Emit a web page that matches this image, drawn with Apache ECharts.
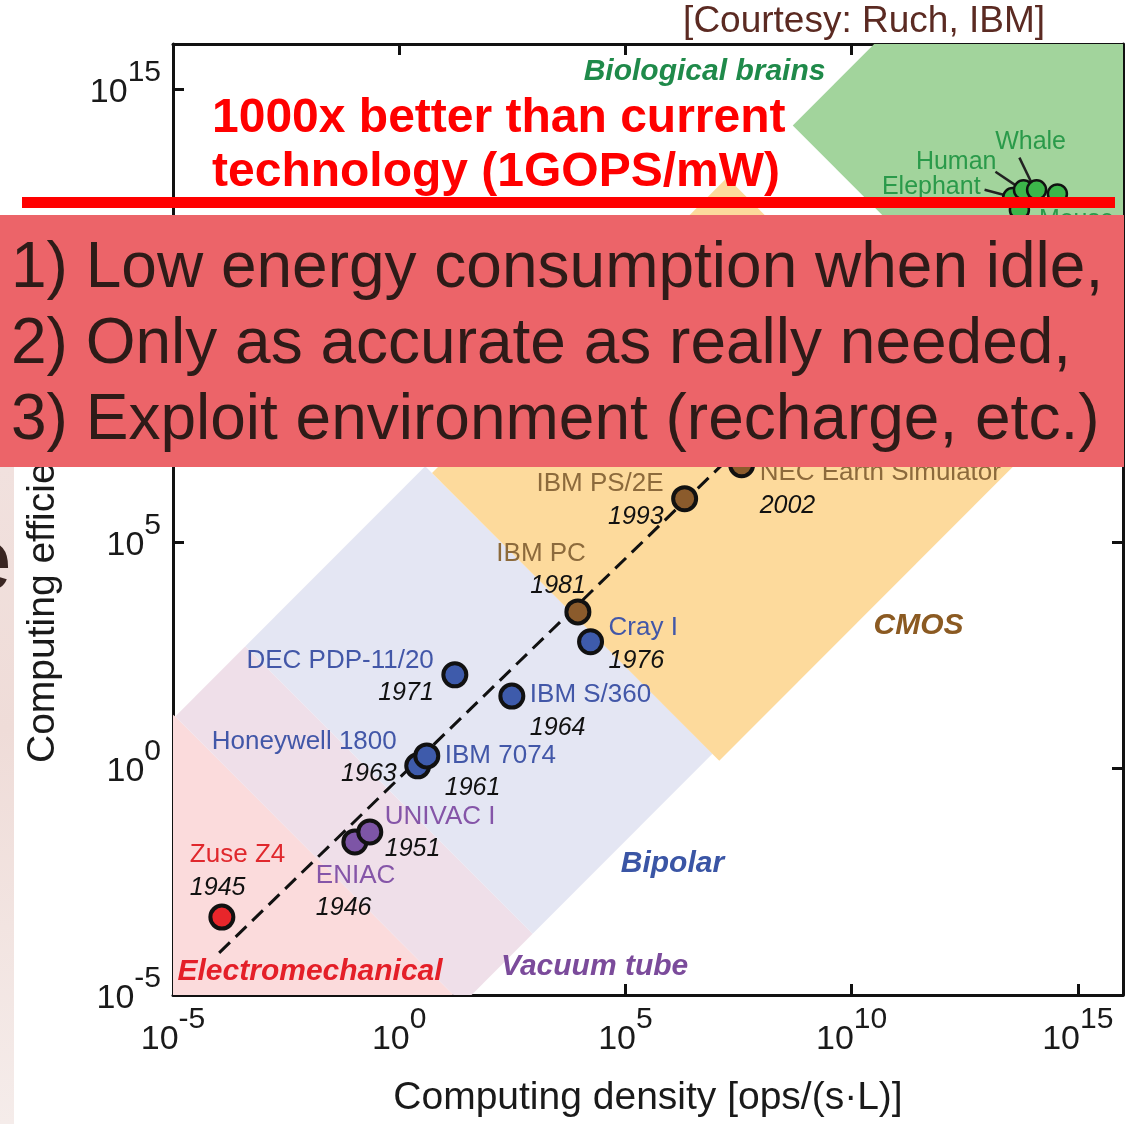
<!DOCTYPE html>
<html>
<head>
<meta charset="utf-8">
<script src="https://cdn.jsdelivr.net/npm/echarts@6/dist/echarts.min.js"></script>
<style>
html, body { margin: 0; padding: 0; background: #fff; }
#main { width: 1128px; height: 1124px; }
</style>
</head>
<body>
<div id="main"></div>
<script>
var FONT = '"Liberation Sans", Arial, sans-serif';

// axes are in log10 units: x = computing density [ops/(s·L)], y = computing efficiency [ops/J]
var tickExps = [-5, 0, 5, 10, 15];

// computers (log10 values)
var machines = ['Zuse Z4', 'ENIAC', 'UNIVAC I', 'Honeywell 1800', 'IBM 7074', 'IBM S/360',
                'DEC PDP-11/20', 'Cray I', 'IBM PC', 'IBM PS/2E', 'NEC Earth Simulator'];
var years = ['1945', '1946', '1951', '1963', '1961', '1964', '1971', '1976', '1981', '1993', '2002'];
var machineTech = [0, 1, 1, 2, 2, 2, 2, 2, 3, 3, 3];
var densityExp = [-3.92, -0.98, -0.65, 0.41, 0.61, 2.49, 1.23, 4.23, 3.95, 6.31, 7.57];
var efficiencyExp = [-3.28, -1.62, -1.40, 0.06, 0.28, 1.60, 2.07, 2.80, 3.46, 5.96, 6.71];

// biological brains (log10 values)
var brains = ['Elephant', 'Human', 'Whale', 'Mouse', ''];
var brainDensityExp = [13.56, 13.80, 14.09, 14.55, 13.71];
var brainEfficiencyExp = [12.61, 12.78, 12.78, 12.69, 12.34];

// dashed trend line end points (log10 values)
var trendExp = [[-3.98, -4.07], [7.52, 7.08]];

// technology regions, corner points in log10 units
var bandNames = ['Electromechanical', 'Vacuum tube', 'Bipolar', 'CMOS', 'Biological brains'];
var bandCorners = [
  [[-13.05, 6.95], [-6.7, -13.3], [1.4, -5.2], [-4.95, 1.15]],
  [[-4.95, 1.15], [1.4, -5.2], [2.95, -3.65], [-3.4, 2.7]],
  [[-3.4, 2.7], [2.95, -3.65], [6.925, 0.325], [0.575, 6.675]],
  [[0.725, 6.525], [7.075, 0.175], [13.6, 6.7], [7.25, 13.05]],
  [[8.7, 14.2], [14.9, 8.0], [23.45, 16.55], [17.25, 22.75]]
];
var bandLabelAt = [[-1.97, -4.49], [4.32, -4.38], [6.04, -2.11], [11.48, 3.15], [6.75, 15.39]];

// leader lines from animal names to their dots (log10 values)
var leaders = [
  [[13.18, 13.18], [13.67, 12.85]],
  [[13.71, 13.49], [13.98, 12.93]],
  [[12.94, 12.78], [13.44, 12.65]]
];

// styles
var bandFills = ['#fbdbdc', '#efdfe9', '#e4e6f3', '#fdda9c', '#a2d49c'];
var bandTextColors = ['#e41f28', '#7b4b9b', '#3a55a5', '#8b5a22', '#1f8a4a'];
var techDot = ['#e8262b', '#7d55a6', '#3e5bab', '#8b5b2c'];
var techText = ['#e0282d', '#8555a8', '#4257a8', '#8c6a3c'];
// [align, dx, dy] of each computer's name/year block relative to its dot
var labelPlace = [
  ['left', -32, -46], ['left', -39, 50], ['left', 15, 1], ['right', -21, -8],
  ['left', 18, 16], ['left', 18, 15], ['right', -21, 2], ['left', 18, 3],
  ['right', 8, -42], ['right', -21, 2], ['left', 18, 25]
];
var brainPlace = [['right', -32, -10], ['right', -27, -28], ['center', -6, -48], ['center', 19, 26], null];

function supLabel(v) {
  if (tickExps.indexOf(v) < 0) return '';
  return '{b|10}{s|' + v + '}';
}
var tickRich = {
  b: { fontSize: 34, lineHeight: 52, verticalAlign: 'bottom', color: '#1a1a1a', fontFamily: FONT },
  s: { fontSize: 30, verticalAlign: 'top', color: '#1a1a1a', fontFamily: FONT }
};

function axis(pos, showLabel, extra) {
  var a = {
    type: 'value', min: -5, max: 16, interval: 5, position: pos,
    axisLine: { show: true, onZero: false, lineStyle: { color: '#111', width: 3 } },
    axisTick: { show: true, inside: true, length: 11, lineStyle: { color: '#111', width: 3 } },
    splitLine: { show: false },
    axisLabel: showLabel ? {
      show: true, formatter: supLabel, rich: tickRich, fontFamily: FONT,
      margin: pos === 'bottom' ? 10 : 12, padding: [0, 0, 11, 0]
    } : { show: false }
  };
  for (var k in extra) a[k] = extra[k];
  return a;
}

var chart = echarts.init(document.getElementById('main'));

var machineData = machines.map(function (m, i) {
  var t = machineTech[i];
  var p = labelPlace[i];
  return {
    name: m,
    value: [densityExp[i], efficiencyExp[i]],
    itemStyle: { color: techDot[t] },
    label: {
      align: p[0], offset: [p[1], p[2]],
      rich: {
        n: { fontSize: 26, lineHeight: 33, color: techText[t], fontFamily: FONT },
        y: { fontSize: 25, lineHeight: 33, fontStyle: 'italic', color: '#111', fontFamily: FONT }
      }
    }
  };
});

var brainData = brains.map(function (b, i) {
  var p = brainPlace[i];
  return {
    name: b,
    value: [brainDensityExp[i], brainEfficiencyExp[i]],
    label: p ? { show: true, align: p[0], offset: [p[1], p[2]] } : { show: false }
  };
});

var series = [
  {
    type: 'custom',
    coordinateSystem: 'cartesian2d',
    clip: true,
    silent: true,
    z: 1,
    data: bandNames.map(function (n, i) { return { name: n, value: bandCorners[i][0] }; }),
    renderItem: function (params, api) {
      var pts = bandCorners[params.dataIndex].map(function (c) { return api.coord(c); });
      var cs = params.coordSys;
      return {
        type: 'polygon',
        shape: { points: pts },
        style: { fill: bandFills[params.dataIndex] },
        clipPath: { type: 'rect', shape: { x: cs.x, y: cs.y, width: cs.width, height: cs.height } }
      };
    }
  },
  {
    type: 'scatter',
    z: 6,
    silent: true,
    symbolSize: 0,
    itemStyle: { opacity: 1 },
    data: bandNames.map(function (n, i) {
      return { name: n, value: bandLabelAt[i], label: { color: bandTextColors[i] } };
    }),
    label: {
      show: true, position: 'inside', formatter: '{b}', opacity: 1,
      fontSize: 30, fontWeight: 'bold', fontStyle: 'italic', fontFamily: FONT
    }
  },
  {
    type: 'line',
    z: 3,
    silent: true,
    data: trendExp,
    symbol: 'none',
    lineStyle: { color: '#111', width: 3, type: [15, 8] }
  }
];

leaders.forEach(function (l) {
  series.push({
    type: 'line', z: 3, silent: true, data: l, symbol: 'none',
    lineStyle: { color: '#222', width: 2.5 }
  });
});

series.push({
  type: 'scatter',
  z: 4,
  symbolSize: 19,
  itemStyle: { color: '#3cb54a', borderColor: '#111', borderWidth: 2.5, opacity: 1 },
  data: brainData,
  label: {
    position: 'inside', verticalAlign: 'middle', formatter: '{b}',
    fontSize: 25, color: '#2a9a4a', fontFamily: FONT
  }
});

series.push({
  type: 'scatter',
  z: 5,
  symbolSize: 23,
  itemStyle: { borderColor: '#111', borderWidth: 4, opacity: 1 },
  data: machineData,
  label: {
    show: true, position: 'inside', verticalAlign: 'middle',
    formatter: function (p) { return '{n|' + p.name + '}\n{y|' + years[p.dataIndex] + '}'; }
  }
});

var overlayText = [
  '1) Low energy consumption when idle,',
  '2) Only as accurate as really needed,',
  '3) Exploit environment (recharge, etc.)'
];
var redText = ['1000x better than current', 'technology (1GOPS/mW)'];

var graphics = [
  {
    type: 'rect', z: 100, shape: { x: 0, y: 467, width: 14, height: 657 },
    style: { fill: new echarts.graphic.LinearGradient(0, 0, 0, 1, [
      { offset: 0, color: '#f1e1de' }, { offset: 0.4, color: '#efdcd8' }, { offset: 1, color: '#f5ecea' }
    ]) }
  },
  {
    type: 'text', z: 101, x: -37, y: 565,
    style: { text: 'e', fontSize: 88, fontFamily: FONT, fill: '#3a2622', verticalAlign: 'middle' }
  },
  {
    type: 'rect', z: 100, shape: { x: 0, y: 215, width: 1124, height: 252 },
    style: { fill: '#ec6469' }
  },
  {
    type: 'rect', z: 100, shape: { x: 22, y: 197, width: 1093, height: 11 },
    style: { fill: '#ff0000' }
  },
  {
    type: 'text', z: 101, x: 1045, y: 22,
    style: { text: '[Courtesy: Ruch, IBM]', fontSize: 37, fontFamily: FONT, fill: '#5b2a22',
             align: 'right', verticalAlign: 'middle' }
  }
];
overlayText.forEach(function (t, i) {
  graphics.push({
    type: 'text', z: 101, x: 11, y: 269 + i * 76,
    style: { text: t, fontSize: 64, fontFamily: FONT, fill: '#2e1b18', align: 'left', verticalAlign: 'middle' }
  });
});
redText.forEach(function (t, i) {
  graphics.push({
    type: 'text', z: 101, x: 212, y: 119 + i * 54,
    style: { text: t, fontSize: 48, fontWeight: 'bold', fontFamily: FONT, fill: '#ff0000',
             align: 'left', verticalAlign: 'middle' }
  });
});

chart.setOption({
  animation: false,
  backgroundColor: '#ffffff',
  grid: { left: 173, right: 5, top: 44, bottom: 129, containLabel: false, outerBoundsMode: 'none' },
  xAxis: [
    axis('bottom', true, {
      name: 'Computing density [ops/(s·L)]', nameLocation: 'middle', nameGap: 84,
      nameTextStyle: { fontSize: 39, color: '#1a1a1a', fontFamily: FONT }
    }),
    axis('top', false, {})
  ],
  yAxis: [
    axis('left', true, {
      name: 'Computing efficiency [ops/J]', nameLocation: 'middle', nameGap: 110,
      nameTextStyle: { fontSize: 39, color: '#1a1a1a', fontFamily: FONT }
    }),
    axis('right', false, {})
  ],
  series: series,
  graphic: graphics
});
</script>
</body>
</html>
